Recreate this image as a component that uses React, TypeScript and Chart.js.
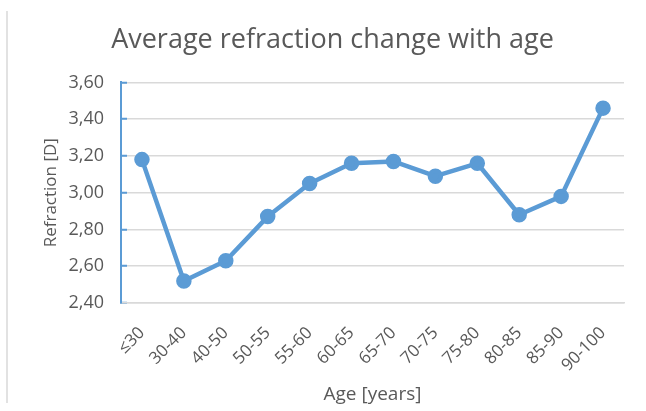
import React, { useEffect, useRef } from "react";
import { Chart, registerables } from "chart.js";

Chart.register(...registerables);

const chartTitle = "Average refraction change with age";
const xAxisTitle = "Age [years]";
const yAxisTitle = "Refraction [D]";
const ageGroups = ["≤30", "30-40", "40-50", "50-55", "55-60", "60-65", "65-70", "70-75", "75-80", "80-85", "85-90", "90-100"];
const refraction = [3.18, 2.52, 2.63, 2.87, 3.05, 3.16, 3.17, 3.09, 3.16, 2.88, 2.98, 3.46];
const yMin = 2.4;
const yMax = 3.6;
const yStep = 0.2;

const FONT = "'Open Sans', sans-serif";
const TEXT = "#595959";
const BLUE = "#5b9bd5";
const GRID = "#d9d9d9";

export default function App() {
  const ref = useRef<HTMLCanvasElement | null>(null);
  useEffect(() => {
    if (!ref.current) return;
    const chart = new Chart(ref.current, {
      type: "line",
      data: {
        labels: ageGroups,
        datasets: [
          {
            data: refraction,
            borderColor: BLUE,
            backgroundColor: BLUE,
            borderWidth: 4.5,
            pointRadius: 5.5,
            pointBackgroundColor: BLUE,
            pointBorderColor: BLUE,
            borderJoinStyle: "round",
            borderCapStyle: "round",
            tension: 0,
          },
        ],
      },
      options: {
        animation: false,
        responsive: false,
        maintainAspectRatio: false,
        layout: { padding: { left: 41, right: 22, top: 24, bottom: 5 } },
        plugins: {
          legend: { display: false },
          tooltip: { enabled: false },
          title: {
            display: true,
            text: chartTitle,
            color: TEXT,
            font: { family: FONT, size: 27, weight: "normal" },
            padding: { top: 0, bottom: 26 },
          },
        },
        scales: {
          x: {
            offset: true,
            afterFit: (s: any) => {
              s.height = 103;
            },
            grid: { display: false, drawTicks: false },
            border: { display: true, color: GRID, width: 1.5 },
            ticks: {
              color: TEXT,
              font: { family: FONT, size: 17 },
              maxRotation: 45,
              minRotation: 45,
              padding: 20,
              autoSkip: false,
            },
            title: {
              display: true,
              text: xAxisTitle,
              color: TEXT,
              font: { family: FONT, size: 19 },
              padding: { top: 0, bottom: 0 },
            },
          },
          y: {
            min: yMin,
            max: yMax,
            afterFit: (s: any) => {
              s.width = 80;
            },
            grid: { color: GRID, lineWidth: 1.5, tickLength: -6, tickColor: BLUE, tickWidth: 2 },
            border: { display: true, color: BLUE, width: 2 },
            ticks: {
              stepSize: yStep,
              color: TEXT,
              font: { family: FONT, size: 18 },
              padding: 23,
              callback: (v: any) => Number(v).toFixed(2).replace(".", ","),
            },
            title: {
              display: true,
              text: yAxisTitle,
              color: TEXT,
              font: { family: FONT, size: 17 },
              padding: { top: 0, bottom: 0 },
            },
          },
        },
      },
    });
    return () => chart.destroy();
  }, []);
  return (
    <div style={{ position: "fixed", left: 0, top: 0, width: 646, height: 411, background: "#fff" }}>
      <div style={{ position: "absolute", left: 6, top: 11, width: 2, height: 392, background: "#e2e2e2" }} />
      <canvas ref={ref} width={646} height={411} style={{ position: "absolute", left: 0, top: 0, width: 646, height: 411 }} />
    </div>
  );
}
